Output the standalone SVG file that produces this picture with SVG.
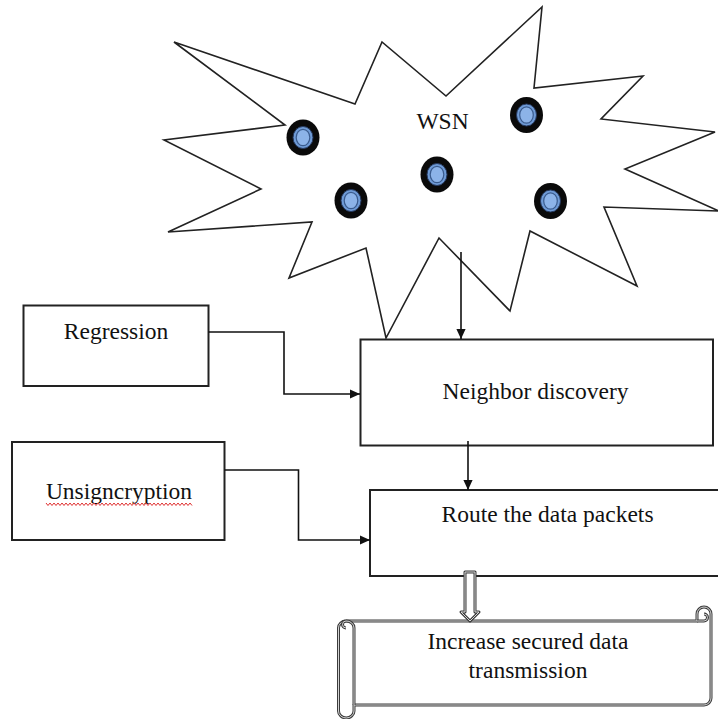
<svg xmlns="http://www.w3.org/2000/svg" width="718" height="719" viewBox="0 0 718 719">
  <style>
    .box { fill: #fff; stroke: #222; stroke-width: 2; }
    .lbl { font-family: "Liberation Serif", "Times New Roman", serif; font-size: 23.5px; fill: #111; text-anchor: middle; }
    .conn { fill: none; stroke: #111; stroke-width: 1.6; }
    .burst { fill: #fff; stroke: #222; stroke-width: 1.6; stroke-linejoin: miter; }
    .outerline { fill: #fff; stroke: #3c3c3c; stroke-width: 3; stroke-linejoin: round; }
    .innerline { fill: none; stroke: #e6e6e6; stroke-width: 0.9; stroke-linejoin: round; }
    .detail-o { fill: none; stroke: #3c3c3c; stroke-width: 3; }
    .detail-i { fill: none; stroke: #e6e6e6; stroke-width: 0.9; }
    .n-out { fill: #0a0a0a; }
    .n-mid { fill: #6f9bd6; stroke: #26395e; stroke-width: 1; }
    .n-in { fill: #8cb3e8; stroke: #3a5b8d; stroke-width: 1.2; }
  </style>
  <defs>
    <marker id="ah" viewBox="0 0 10 10" refX="10" refY="5" markerWidth="10" markerHeight="10" markerUnits="userSpaceOnUse" orient="auto">
      <path d="M0,0.4 L10,5 L0,9.6 Z" fill="#111"/>
    </marker>
    <g id="sensor">
      <ellipse class="n-out" cx="0" cy="0" rx="16.5" ry="18"/>
      <ellipse class="n-mid" cx="0" cy="0" rx="10" ry="11"/>
      <ellipse class="n-in" cx="0" cy="0" rx="6.8" ry="8.2"/>
    </g>
    <path id="scrollOutline" d="M338.5,628 A7.5,7 0 0 1 346,621 H697 V614 A7,7 0 0 1 711,614 V698 A7,7 0 0 1 704,705 H354 V711 A7.75,7 0 0 1 338.5,711 Z"/>
    <path id="scrollDetail" d="M346,621 A7.5,7 0 0 1 354,628 V705 M346,628 A3.5,3.5 0 0 1 346,621 M697,621 H704 A3.5,3.5 0 0 0 704,614"/>
    <path id="blockArrow" d="M465,572 H475 V612 H479 L470,621 L461,612 H465 Z"/>
  </defs>

  <g id="wsn">
    <polygon class="burst" points="174,42 355,104 382,42 446,96 542,7 534,88 643,76 601,119 715,132 625,169 719,211 604,207 637,286 530,231 510,311 439,238 386,338 366,248 289,278 312,222 168,232 261,189 164,140 285,125"/>
    <text class="lbl" x="442.5" y="129">WSN</text>
    <g id="sensor1"><use href="#sensor" x="303" y="137.5"/></g>
    <g id="sensor2"><use href="#sensor" x="526.5" y="115"/></g>
    <g id="sensor3"><use href="#sensor" x="437" y="174.5"/></g>
    <g id="sensor4"><use href="#sensor" x="351" y="200.5"/></g>
    <g id="sensor5"><use href="#sensor" x="550.5" y="201"/></g>
  </g>

  <g id="regression">
    <rect class="box" x="23.5" y="305.5" width="185" height="80.5"/>
    <text class="lbl" x="116" y="339">Regression</text>
  </g>

  <g id="unsigncryption">
    <rect class="box" x="12" y="442" width="212.5" height="98"/>
    <text class="lbl" x="119" y="499">Unsigncryption</text>
    <polyline fill="none" stroke="#e03030" stroke-width="1" points="46,503 48,505.5 50,503 52,505.5 54,503 56,505.5 58,503 60,505.5 62,503 64,505.5 66,503 68,505.5 70,503 72,505.5 74,503 76,505.5 78,503 80,505.5 82,503 84,505.5 86,503 88,505.5 90,503 92,505.5 94,503 96,505.5 98,503 100,505.5 102,503 104,505.5 106,503 108,505.5 110,503 112,505.5 114,503 116,505.5 118,503 120,505.5 122,503 124,505.5 126,503 128,505.5 130,503 132,505.5 134,503 136,505.5 138,503 140,505.5 142,503 144,505.5 146,503 148,505.5 150,503 152,505.5 154,503 156,505.5 158,503 160,505.5 162,503 164,505.5 166,503 168,505.5 170,503 172,505.5 174,503 176,505.5 178,503 180,505.5 182,503 184,505.5 186,503 188,505.5 190,503 192,505.5"/>
  </g>

  <g id="neighbor">
    <rect class="box" x="360.5" y="339.5" width="352.5" height="106"/>
    <text class="lbl" x="535.5" y="399">Neighbor discovery</text>
  </g>

  <g id="route">
    <rect class="box" x="370" y="490" width="360" height="86"/>
    <text class="lbl" x="547.5" y="521.5">Route the data packets</text>
  </g>

  <g id="result">
    <use href="#scrollOutline" class="outerline"/>
    <use href="#scrollOutline" class="innerline"/>
    <use href="#scrollDetail" class="detail-o"/>
    <use href="#scrollDetail" class="detail-i"/>
    <text class="lbl" x="528" y="649">Increase secured data</text>
    <text class="lbl" x="528" y="678">transmission</text>
  </g>

  <g id="connectors">
    <path class="conn" d="M208.5,332 H284 V394 H360" marker-end="url(#ah)"/>
    <path class="conn" d="M224.5,470 H298.5 V540 H370" marker-end="url(#ah)"/>
    <path class="conn" d="M461,252 V339" marker-end="url(#ah)"/>
    <path class="conn" d="M468,441 V490" marker-end="url(#ah)"/>
    <use href="#blockArrow" class="outerline"/>
    <use href="#blockArrow" class="innerline"/>
  </g>
</svg>
